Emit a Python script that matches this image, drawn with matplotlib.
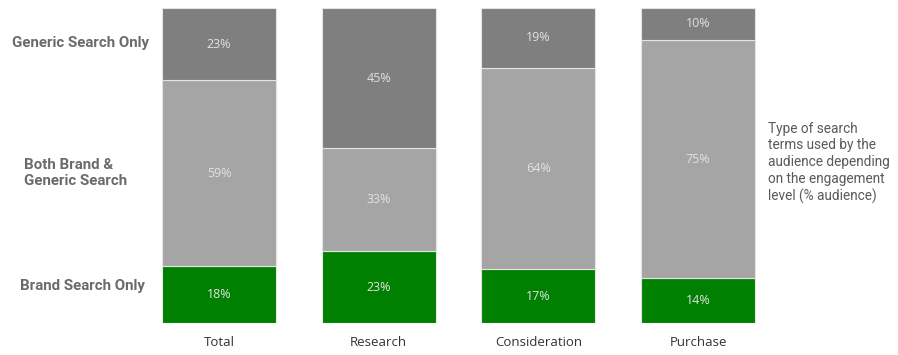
import numpy as np
import matplotlib.pyplot as plt

stages = ['Total', 'Research', 'Consideration', 'Purchase']
brand_only = np.array([18, 23, 17, 14])
both = np.array([59, 33, 64, 75])
generic_only = np.array([23, 45, 19, 10])

segment_names = ['Brand Search Only', 'Both Brand &\nGeneric Search', 'Generic Search Only']
segment_colors = ['#008000', '#a5a5a5', '#7f7f7f']

# bars are drawn to full height, so scale each column to 100
totals = brand_only + both + generic_only
series = [brand_only, both, generic_only]
scaled = [s / totals * 100 for s in series]

fig = plt.figure(figsize=(8.98, 3.55), dpi=100)
ax = fig.add_axes([140 / 898, 32 / 355, 620 / 898, 315 / 355])

x = np.arange(len(stages))
bottom = np.zeros(len(stages))
for vals, raw, col in zip(scaled, series, segment_colors):
    ax.bar(x, vals, width=0.714, bottom=bottom, color=col,
           edgecolor='#e4e4e4', linewidth=0.8)
    for xi, b, v, r in zip(x, bottom, vals, raw):
        ax.text(xi, b + v / 2, f'{r}%', ha='center', va='center',
                fontsize=9, family='Open Sans', color='#e2e2e2')
    bottom += vals

ax.set_xlim(-0.495, 3.388)
ax.set_ylim(0, 100)
ax.set_xticks(x)
ax.set_xticklabels(stages, family='Open Sans', fontsize=9.5, color='#333333')
ax.tick_params(axis='x', length=0, pad=9)
ax.set_yticks([])
for sp in ax.spines.values():
    sp.set_visible(False)

# row labels on the left
label_y = [286, 173, 43]
label_x = [82, 76, 80]
for name, lx, ly in zip(segment_names, label_x, label_y):
    fig.text(lx / 898, 1 - ly / 355, name, ha='center', va='center',
             fontsize=10.8, fontweight='bold', family='Roboto',
             color='#6b6b6b', multialignment='left', linespacing=1.2)

fig.text(768 / 898, 1 - 163 / 355,
         'Type of search\nterms used by the\naudience depending\non the engagement\nlevel (% audience)',
         ha='left', va='center', fontsize=9.8, family='Roboto',
         color='#5a5a5a', linespacing=1.25)

fig.savefig('out.png', dpi=100)
